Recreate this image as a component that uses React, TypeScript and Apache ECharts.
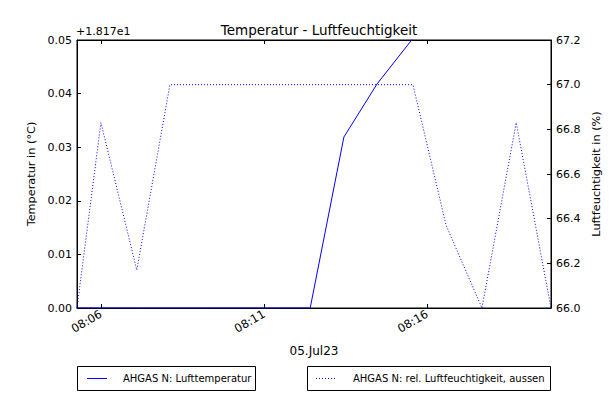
import React, { useEffect, useRef } from "react";
import * as echarts from "echarts";

// Data
const times = ["08:05:16", "08:06:00", "08:07:06", "08:08:07", "08:09:10", "08:10:14", "08:11:19", "08:12:25", "08:13:27", "08:14:28", "08:15:34", "08:16:35", "08:17:41", "08:18:44", "08:19:48"];
const temperature = [18.17, 18.17, 18.17, 18.17, 18.17, 18.17, 18.17, 18.17, 18.2019, 18.2118, 18.2203, 18.23, 18.23, 18.24, 18.24];
const humidity = [66.0, 66.83, 66.17, 67.0, 67.0, 67.0, 67.0, 67.0, 67.0, 67.0, 67.0, 66.37, 66.0, 66.83, 66.0];
const xRange = ["08:05:16", "08:19:48"];
const xTicks = ["08:06", "08:11", "08:16"];
const tempOffset = 18.17;
const tempRange = [18.17, 18.22];
const humRange = [66.0, 67.2];

const seriesNames = ["AHGAS N: Lufttemperatur", "AHGAS N: rel. Luftfeuchtigkeit, aussen"];
const titleText = "Temperatur - Luftfeuchtigkeit";
const xName = "05.Jul23";
const yLeftName = "Temperatur in (°C)";
const yRightName = "Luftfeuchtigkeit in (%)";

const toSec = (s: string) => {
  const p = s.split(":").map(Number);
  return p[0] * 3600 + p[1] * 60 + (p[2] || 0);
};
const fmtTime = (v: number) => {
  const h = Math.floor(v / 3600);
  const m = Math.floor((v % 3600) / 60);
  return String(h).padStart(2, "0") + ":" + String(m).padStart(2, "0");
};

const FONT = "DejaVu Sans";

export default function App() {
  const ref = useRef<HTMLDivElement>(null);
  useEffect(() => {
    if (!ref.current) return;
    const chart = echarts.init(ref.current, undefined, { renderer: "svg" });
    const tickVals = xTicks.map(toSec);
    const xMin = toSec(xRange[0]);
    const xMax = toSec(xRange[1]);
    const blue = "#0000ff";
    chart.setOption({
      animation: false,
      backgroundColor: "#ffffff",
      textStyle: { fontFamily: FONT },
      title: {
        text: titleText,
        left: 314,
        top: 18,
        textAlign: "center",
        textStyle: { fontFamily: FONT, fontSize: 13.5, fontWeight: "normal", color: "#000" },
      },
      grid: { left: 77, right: 61, top: 40, bottom: 88, show: true, borderColor: "#000", borderWidth: 1, backgroundColor: "#fff" },
      xAxis: [
        {
          type: "value",
          min: xMin,
          max: xMax,
          position: "bottom",
          name: xName,
          nameLocation: "middle",
          nameGap: 37,
          nameTextStyle: { fontFamily: FONT, fontSize: 12, color: "#000" },
          axisLine: { show: true, lineStyle: { color: "#000", width: 1 } },
          axisTick: { show: true, inside: true, length: 4, customValues: tickVals, lineStyle: { color: "#000" } },
          axisLabel: {
            show: true,
            customValues: tickVals,
            rotate: 30,
            margin: 5,
            formatter: (v: number) => fmtTime(v),
            fontFamily: FONT,
            fontSize: 11.5,
            color: "#000",
          },
          splitLine: { show: false },
        },
        {
          type: "value",
          min: xMin,
          max: xMax,
          position: "top",
          axisLine: { show: true, lineStyle: { color: "#000", width: 1 } },
          axisTick: { show: true, inside: true, length: 4, customValues: tickVals, lineStyle: { color: "#000" } },
          axisLabel: { show: false },
          splitLine: { show: false },
        },
      ],
      yAxis: [
        {
          type: "value",
          min: tempRange[0],
          max: tempRange[1],
          interval: 0.01,
          position: "left",
          name: yLeftName,
          nameLocation: "middle",
          nameGap: 36,
          nameRotate: 90,
          nameTextStyle: { fontFamily: FONT, fontSize: 11.3, color: "#000" },
          axisLine: { show: true, lineStyle: { color: "#000", width: 1 } },
          axisTick: { show: true, inside: true, length: 4, lineStyle: { color: "#000" } },
          axisLabel: {
            margin: 5,
            formatter: (v: number) => (v - tempOffset).toFixed(2),
            fontFamily: FONT,
            fontSize: 11,
            color: "#000",
          },
          splitLine: { show: false },
        },
        {
          type: "value",
          min: humRange[0],
          max: humRange[1],
          interval: 0.2,
          position: "right",
          name: yRightName,
          nameLocation: "middle",
          nameGap: 31,
          nameRotate: 90,
          nameTextStyle: { fontFamily: FONT, fontSize: 11.3, color: "#000" },
          axisLine: { show: true, lineStyle: { color: "#000", width: 1 } },
          axisTick: { show: true, inside: true, length: 4, lineStyle: { color: "#000" } },
          axisLabel: {
            margin: 5,
            formatter: (v: number) => v.toFixed(1),
            fontFamily: FONT,
            fontSize: 11,
            color: "#000",
          },
          splitLine: { show: false },
        },
      ],
      series: [
        {
          name: seriesNames[0],
          type: "line",
          xAxisIndex: 0,
          yAxisIndex: 0,
          data: times.map((t, i) => [toSec(t), temperature[i]]),
          showSymbol: false,
          symbol: "none",
          clip: true,
          lineStyle: { color: blue, width: 1 },
          itemStyle: { color: blue },
        },
        {
          name: seriesNames[1],
          type: "line",
          xAxisIndex: 0,
          yAxisIndex: 1,
          data: times.map((t, i) => [toSec(t), humidity[i]]),
          showSymbol: false,
          symbol: "none",
          clip: true,
          lineStyle: { color: blue, width: 1, type: [1, 2] },
          itemStyle: { color: blue },
        },
      ],
      graphic: [
        {
          type: "text",
          left: 76,
          top: 26,
          style: { text: "+1.817e1", fontFamily: FONT, fontSize: 11, fill: "#000" },
        },
        {
          type: "group",
          children: [
            { type: "rect", shape: { x: 77.5, y: 366.5, width: 178, height: 24 }, style: { fill: "#fff", stroke: "#000", lineWidth: 1 } },
            { type: "line", shape: { x1: 87, y1: 378.5, x2: 107, y2: 378.5 }, style: { stroke: blue, lineWidth: 1 } },
            { type: "text", x: 123, y: 378.5, style: { text: seriesNames[0], fontFamily: FONT, fontSize: 10, fill: "#000", verticalAlign: "middle" } },
            { type: "rect", shape: { x: 307.5, y: 366.5, width: 243, height: 24 }, style: { fill: "#fff", stroke: "#000", lineWidth: 1 } },
            { type: "line", shape: { x1: 316, y1: 378.5, x2: 336, y2: 378.5 }, style: { stroke: blue, lineWidth: 1, lineDash: [1, 2] } },
            { type: "text", x: 353, y: 378.5, style: { text: seriesNames[1], fontFamily: FONT, fontSize: 10, fill: "#000", verticalAlign: "middle" } },
          ],
        },
      ],
    });
    return () => chart.dispose();
  }, []);
  return <div ref={ref} style={{ position: "absolute", left: 0, top: 0, width: 612, height: 396 }} />;
}
